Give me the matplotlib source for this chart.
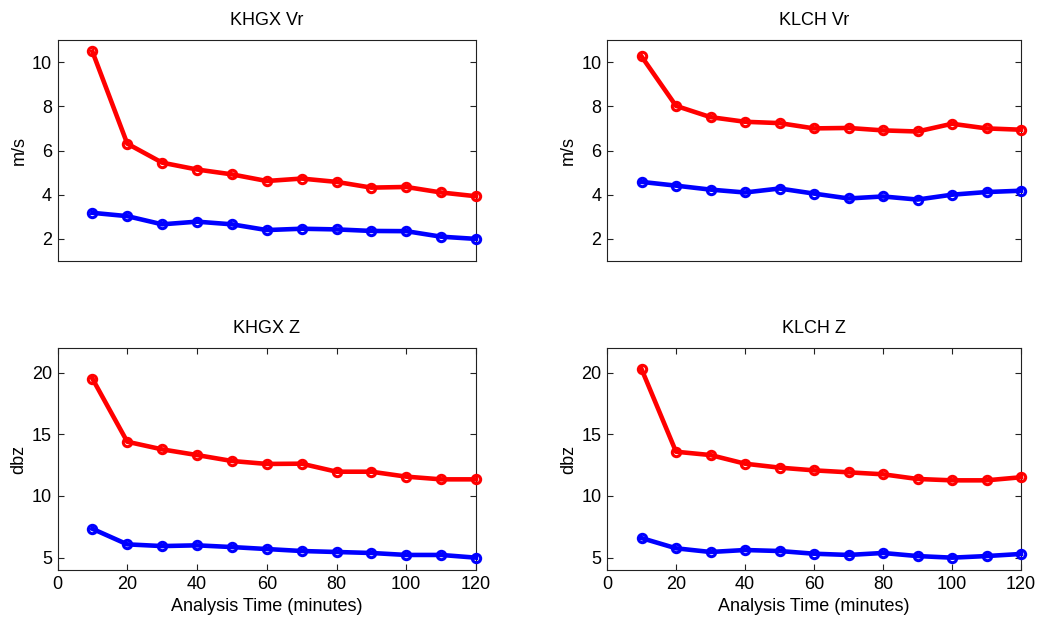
import matplotlib
matplotlib.use("Agg")
import matplotlib.pyplot as plt

plt.rcParams['font.family'] = ['Liberation Sans', 'DejaVu Sans']

times = [10, 20, 30, 40, 50, 60, 70, 80, 90, 100, 110, 120]

khgx_vr_red = [10.48, 6.31, 5.45, 5.14, 4.92, 4.62, 4.73, 4.58, 4.32, 4.35, 4.10, 3.93]
khgx_vr_blue = [3.18, 3.03, 2.66, 2.78, 2.66, 2.40, 2.46, 2.43, 2.36, 2.35, 2.10, 2.00]

klch_vr_red = [10.26, 8.02, 7.51, 7.30, 7.24, 7.00, 7.02, 6.91, 6.86, 7.21, 7.00, 6.94]
klch_vr_blue = [4.58, 4.41, 4.23, 4.10, 4.28, 4.05, 3.83, 3.92, 3.78, 4.00, 4.12, 4.18]

khgx_z_red = [19.52, 14.40, 13.78, 13.32, 12.84, 12.60, 12.62, 11.97, 11.97, 11.57, 11.35, 11.35]
khgx_z_blue = [7.34, 6.08, 5.94, 6.00, 5.86, 5.70, 5.54, 5.46, 5.38, 5.22, 5.22, 5.00]

klch_z_red = [20.30, 13.59, 13.32, 12.62, 12.30, 12.08, 11.92, 11.76, 11.38, 11.27, 11.27, 11.52]
klch_z_blue = [6.59, 5.76, 5.46, 5.62, 5.54, 5.32, 5.22, 5.38, 5.13, 5.00, 5.13, 5.30]

panels = [
    ("KHGX Vr", "m/s", khgx_vr_red, khgx_vr_blue, (1, 11), [2, 4, 6, 8, 10]),
    ("KLCH Vr", "m/s", klch_vr_red, klch_vr_blue, (1, 11), [2, 4, 6, 8, 10]),
    ("KHGX Z", "dbz", khgx_z_red, khgx_z_blue, (4, 22), [5, 10, 15, 20]),
    ("KLCH Z", "dbz", klch_z_red, klch_z_blue, (4, 22), [5, 10, 15, 20]),
]

W, H = 1046, 618
FS = 13
fig = plt.figure(figsize=(W / 100, H / 100), dpi=100)

# axes rectangles in pixels: left, top, right, bottom
rects = [
    (57.5, 40, 476, 261),
    (607, 40, 1021, 261),
    (57.5, 348, 476, 570),
    (607, 348, 1021, 570),
]

for i, (title, ylabel, red, blue, ylim, yticks) in enumerate(panels):
    l, t, r, b = rects[i]
    ax = fig.add_axes([l / W, 1 - b / H, (r - l) / W, (b - t) / H])
    for vals, col in ((red, '#ff0000'), (blue, '#0000ff')):
        ax.plot(times, vals, color=col, lw=3.3, marker='o', ms=6,
                mfc='none', mec=col, mew=2.2, clip_on=False, zorder=3)
    ax.set_xlim(0, 120)
    ax.set_ylim(*ylim)
    ax.set_yticks(yticks)
    ax.set_title(title, fontsize=FS, pad=11)
    ax.set_ylabel(ylabel, fontsize=FS, labelpad=3)
    if i < 2:
        ax.set_xticks([])
    else:
        ax.set_xticks([0, 20, 40, 60, 80, 100, 120])
        ax.set_xlabel("Analysis Time (minutes)", fontsize=FS, labelpad=4)
    ax.tick_params(direction='in', length=4, width=0.8, labelsize=FS,
                   top=(i >= 2), right=True, pad=4, colors='#222222',
                   labelcolor='black')
    for sp in ax.spines.values():
        sp.set_color('#222222')
        sp.set_linewidth(0.8)

fig.savefig("out.png", dpi=100, facecolor='white')
